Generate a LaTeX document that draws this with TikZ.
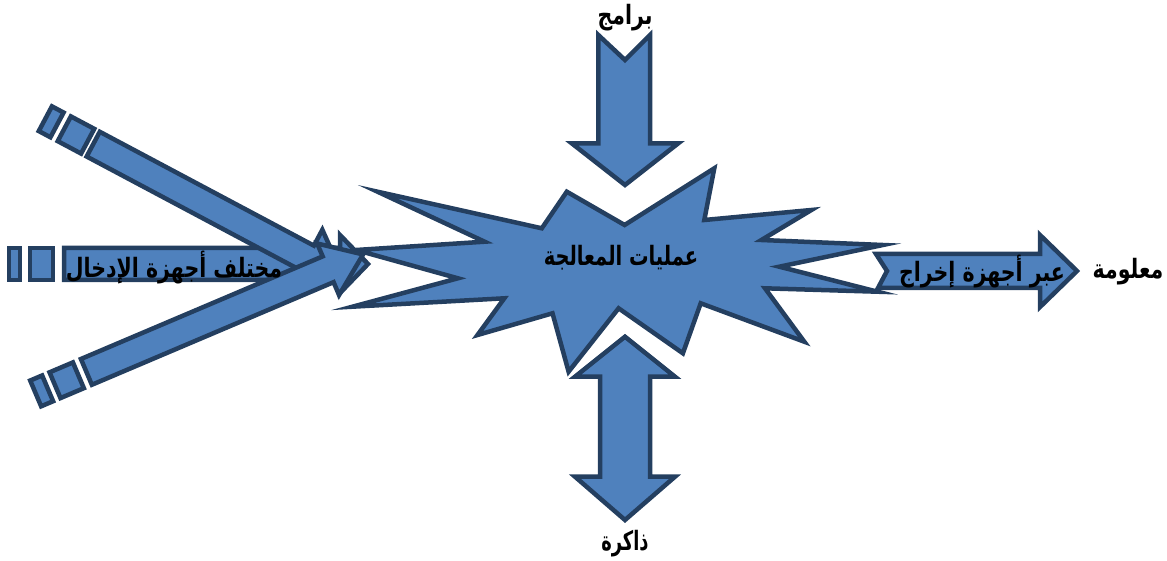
\documentclass[tikz,border=0pt]{standalone}
\usepackage{fontspec}
\newfontfamily\arabicfont[Script=Arabic]{DejaVu Sans}
\TeXXeTstate=1
\definecolor{fillc}{RGB}{79,129,189}
\definecolor{edgec}{RGB}{36,63,96}
\newcommand{\artxt}[2][1]{\scalebox{#1}[1.3]{\beginR #2\endR}}
\begin{document}
\begin{tikzpicture}[x=1pt,y=-1pt,
  blockshape/.style={fill=fillc,draw=edgec,line width=4.5pt,line join=miter,miter limit=10},
  lbl/.style={font=\arabicfont\bfseries\fontsize{20.5}{24}\selectfont,text=black,inner sep=0pt}]
\useasboundingbox (0,0) rectangle (1167,561);

% output arrow (right)
\path[blockshape] (876,254) -- (1040,254) -- (1040,235) -- (1077,271) -- (1040,307) -- (1040,288) -- (878,288) -- (887,271) -- cycle;

% processing star
\path[blockshape] (377.5,191.7) -- (541.8,228.3) -- (566.8,191.7) -- (624.6,225) -- (714.3,168.3) -- (704.3,220) -- (811.4,210) -- (761.4,240) -- (882.9,245) -- (779.3,266.7) -- (877.5,291.7) -- (765,288.3) -- (804.3,341.7) -- (700.7,303.3) -- (682.9,353.3) -- (618.6,308.3) -- (568.6,371.7) -- (552.5,313.3) -- (477.5,335) -- (504.3,298.3) -- (352.5,306.7) -- (457.9,278.3) -- (356,250) -- (484.6,241.7) -- cycle;

% programs arrow (top, pointing down)
\path[blockshape] (598.3,35) -- (625,60) -- (650,35) -- (650,143.3) -- (678.3,143.3) -- (625,185) -- (571.7,143.3) -- (598.3,143.3) -- cycle;

% memory arrow (bottom, double)
\path[blockshape] (625,336.7) -- (675,376.7) -- (650,376.7) -- (650,476.7) -- (675,476.7) -- (625,520) -- (575,476.7) -- (600,476.7) -- (600,376.7) -- (575,376.7) -- cycle;

% middle input arrow
\path[blockshape] (9,248) rectangle (20,280);
\path[blockshape] (30,248) rectangle (53,280);
\path[blockshape] (64,248) -- (340,248) -- (340,235) -- (368,264) -- (340,293) -- (340,280) -- (64,280) -- cycle;

% upper input arrow
\begin{scope}[shift={(76,135)},rotate=-28]
\path[blockshape] (-34.7,-14) rectangle (-21.5,14);
\path[blockshape] (-13.25,-14) rectangle (13.25,14);
\path[blockshape] (19.5,-14) -- (262,-14) -- (262,-32) -- (303,0) -- (262,32) -- (262,14) -- (19.5,14) -- cycle;
\end{scope}

% lower input arrow
\begin{scope}[shift={(66.7,380.25)},rotate=23]
\path[blockshape] (-33.7,-14) rectangle (-20.7,14);
\path[blockshape] (-12.7,-14) rectangle (12.7,14);
\path[blockshape] (21.4,-14) -- (284,-14) -- (284,-28) -- (322,0) -- (284,28) -- (284,14) -- (21.4,14) -- cycle;
\end{scope}

% labels
\node[lbl] (prog) at (625,18) {\artxt{برامج}};
\node[lbl] (mem) at (625,544) {\artxt[0.87]{ذاكرة}};
\node[lbl] (proc) at (621,258) {\artxt[0.95]{عمليات المعالجة}};
\node[lbl] (inp) at (174,268) {\artxt{مختلف أجهزة الإدخال}};
\node[lbl] (outp) at (982,272) {\artxt{عبر  أجهزة إخراج}};
\node[lbl] (info) at (1128,272) {\artxt{معلومة}};
\end{tikzpicture}
\end{document}
